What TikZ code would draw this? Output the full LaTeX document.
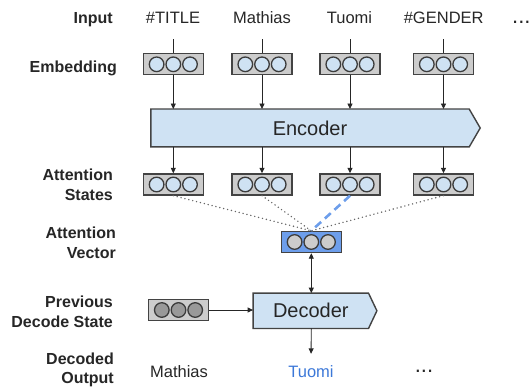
\documentclass[tikz,border=0pt]{standalone}
\usepackage{fontspec}
\setmainfont{Liberation Sans}
\usetikzlibrary{arrows.meta,backgrounds,calc}
\definecolor{lb}{HTML}{CFE2F3}
\definecolor{bx}{HTML}{CCCCCC}
\definecolor{bd}{HTML}{434343}
\definecolor{avb}{HTML}{6D9EEB}
\definecolor{tb}{HTML}{3C78D8}
\definecolor{dk}{HTML}{999999}
\definecolor{dl}{HTML}{666666}
\tikzset{
  vbox/.style={rectangle,draw=bd,line width=1.4pt,fill=bx,minimum width=60pt,minimum height=21pt,inner sep=0pt},
  circ/.style={draw=bd!90!black,line width=1.3pt},
  sig/.style={draw=bd,line width=1.4pt,fill=lb,line join=miter},
  arr/.style={-{Triangle[length=5.5pt,width=5pt]},line width=0.9pt,draw=black!85},
  darr/.style={{Triangle[length=5.5pt,width=5pt]}-{Triangle[length=5.5pt,width=5pt]},line width=0.9pt,draw=black!85},
  plain/.style={line width=0.9pt,draw=black!85},
  dotl/.style={draw=dl,line width=1.6pt,dash pattern=on 0pt off 4pt,line cap=round},
  dashl/.style={draw=avb,line width=2.6pt,dash pattern=on 8pt off 5pt},
  lbl/.style={font=\bfseries\fontsize{16}{19.5}\selectfont,align=right,inner sep=0pt,text=black!85},
  word/.style={font=\fontsize{16.5}{19}\selectfont,inner sep=0pt,text=black!85},
  big/.style={font=\fontsize{20}{24}\selectfont,text=black!85},
}
\newcommand{\vecbox}[5][bx]{%
  \node[vbox,fill=#1] (#2) at (#3,#4) {};
  \foreach \dx in {-16.7,0,16.7} \draw[circ,fill=#5] ($(#2)+(\dx,0)$) circle (7.3pt);
}
\begin{document}
\begin{tikzpicture}[x=1pt,y=-1pt]
\useasboundingbox (0,0) rectangle (532,387);
% row labels
\node[lbl,anchor=base east] (lin) at (113,23.5) {Input};
\node[lbl,anchor=base east] (lemb) at (117,73) {Embedding};
\node[lbl,anchor=east] (lst) at (113,185) {Attention\\States};
\node[lbl,anchor=east] (lav) at (116,243) {Attention\\Vector};
\node[lbl,anchor=east] (lpd) at (113,312) {Previous\\Decode State};
\node[lbl,anchor=east] (ldo) at (114,370) {Decoded\\Output};
% inputs
\node[word,anchor=base] (in1) at (173,24) {\#TITLE};
\node[word,anchor=base] (in2) at (262,24) {Mathias};
\node[word,anchor=base] (in3) at (349.5,24) {Tuomi};
\node[word,anchor=base] (in4) at (443.7,24) {\#GENDER};
\node[word,anchor=base west,font=\fontsize{22}{24}\selectfont] (indots) at (512,24) {...};
% embeddings
\vecbox{e1}{173.3}{64.3}{lb}
\vecbox{e2}{262}{64.3}{lb}
\vecbox{e3}{350}{64.3}{lb}
\vecbox{e4}{443.5}{64.3}{lb}
% encoder
\node[big,minimum width=318pt,minimum height=37.5pt,inner sep=0pt] (enc) at (310,128) {Encoder};
\begin{scope}[on background layer]
\draw[sig] (enc.north west) -- (enc.north east) -- ($(enc.east)+(11,0)$) -- (enc.south east) -- (enc.south west) -- cycle;
\end{scope}
% attention states
\vecbox{s1}{173.3}{184.5}{lb}
\vecbox{s2}{262}{184.5}{lb}
\vecbox{s3}{350}{184.5}{lb}
\vecbox{s4}{443.5}{184.5}{lb}
% attention vector
\vecbox[avb]{av}{311.3}{242}{bx}
% decoder
\node[big,minimum width=115pt,minimum height=35pt,inner sep=0pt] (dec) at (310.8,310.8) {Decoder};
\begin{scope}[on background layer]
\draw[sig] (dec.north west) -- (dec.north east) -- ($(dec.east)+(8.4,0)$) -- (dec.south east) -- (dec.south west) -- cycle;
\end{scope}
% previous decode state
\vecbox{pd}{178.5}{310}{dk}
% outputs
\node[word,anchor=base] (o1) at (179,377) {Mathias};
\node[word,anchor=base,text=tb] (o2) at (311,377) {Tuomi};
\node[word,anchor=base,font=\fontsize{22}{24}\selectfont] (odots) at (424,372) {...};
% connectors
\foreach \i in {1,2,3,4} {
  \draw[plain,shorten <=15pt] (in\i.south -| e\i) -- (e\i.north);
  \draw[arr] (e\i.south) -- (e\i.south |- enc.north);
  \draw[arr] (s\i.north |- enc.south) -- (s\i.north);
}
\draw[dotl] (s1.south) -- (av.north);
\draw[dotl] (s2.south) -- (av.north);
\draw[dotl] (s4.south) -- (av.north);
\draw[dashl] (s3.south) -- (av.north);
\draw[darr] (av.south) -- (av.south |- dec.north);
\draw[arr] (pd.east) -- (dec.west |- pd.east);
\draw[arr,shorten >=11pt] (av.south |- dec.south) -- (o2.north);
\end{tikzpicture}
\end{document}
